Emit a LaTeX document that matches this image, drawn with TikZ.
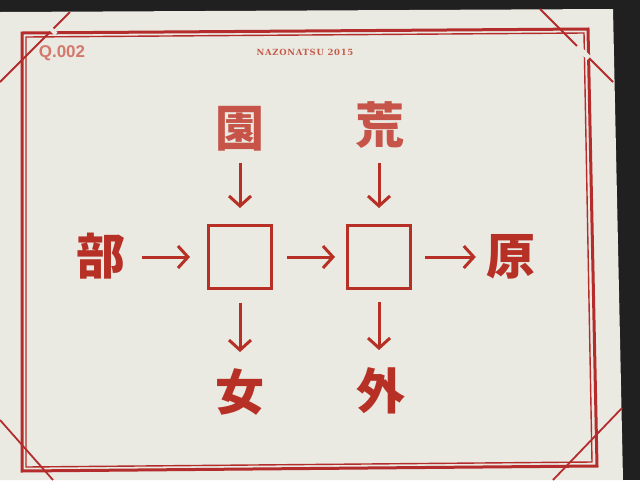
\documentclass[tikz,border=0pt]{standalone}
\usepackage{fontspec}
\setmainfont{Liberation Sans}
\newfontfamily\cjk{Noto Sans CJK JP}
\newfontfamily\slab{DejaVu Serif}[LetterSpace=8]
\usetikzlibrary{arrows.meta}
\definecolor{inkred}{RGB}{183,48,38}
\definecolor{inklight}{RGB}{198,84,72}
\definecolor{framered}{RGB}{181,44,44}
\definecolor{card}{RGB}{234,234,227}
\definecolor{darkbg}{RGB}{32,32,32}
\definecolor{qred}{RGB}{212,120,108}
\definecolor{nzred}{RGB}{196,92,74}
\begin{document}
\begin{tikzpicture}[x=1pt,y=-1pt,
  kanji/.style={inner sep=0pt,text=inkred,font=\cjk\bfseries\fontsize{49}{49}\selectfont,
    text height=41.6pt,text depth=3.9pt},
  sqbox/.style={draw=inkred,line width=3.4pt,minimum size=62.6pt,inner sep=0pt},
  arr/.style={draw=inkred,line width=3pt,-{Straight Barb[length=10pt,width=22pt]}},
  diag/.style={draw=framered,line width=1.8pt},
  thickframe/.style={draw=framered,line width=3pt},
  thinframe/.style={draw=framered,line width=1.4pt}]
\useasboundingbox (0,0) rectangle (640,480);
\fill[darkbg] (0,0) rectangle (640,480);
\fill[card] (0,12) -- (613,9) -- (623,480) -- (0,480) -- cycle;
% corner diagonals
\draw[diag] (70,12) -- (0,82);
\draw[diag] (540,9) -- (613,82);
\draw[diag] (0,420) -- (53,480);
\draw[diag] (622,408) -- (553,480);
% frame
\draw[thickframe] (22,33) -- (588,29) -- (597,466) -- (22,471) -- cycle;
\draw[thinframe] (26,37) -- (584,33) -- (592,462) -- (26,467) -- cycle;
% gaps at crossings
\draw[card,line width=5pt] (577,46) -- (589,58);
\draw[card,line width=4pt] (50,28) -- (56,34);
% header texts
\node[text=qred,font=\bfseries\fontsize{17}{17}\selectfont,inner sep=0pt] (q) at (62,53) {Q.002};
\node[text=nzred,font=\slab\bfseries\fontsize{8.5}{8.5}\selectfont,inner sep=0pt] (nz) at (305,52) {NAZONATSU 2015};
% boxes
\node[sqbox] (b1) at (240,257) {};
\node[sqbox] (b2) at (379,257) {};
% kanji
\node[kanji] (k1) at (101,256) {部};
\node[kanji] (k2) at (511,256) {原};
\node[kanji,text=inklight] (k3) at (240,128) {園};
\node[kanji,text=inklight] (k4) at (380,125) {荒};
\node[kanji] (k5) at (240,392) {女};
\node[kanji] (k6) at (381,391) {外};
% arrows
\draw[arr,shorten <=16.5pt,shorten >=17pt] (k1.east |- b1.west) -- (b1.west);
\draw[arr,shorten <=14pt,shorten >=11pt] (b1.east) -- (b2.west);
\draw[arr,shorten <=13pt,shorten >=10.5pt] (b2.east) -- (k2.west |- b2.east);
\draw[arr,shorten <=12pt,shorten >=16pt] (k3.south -| b1.north) -- (b1.north);
\draw[arr,shorten <=15pt,shorten >=16pt] (k4.south -| b2.north) -- (b2.north);
\draw[arr,shorten <=13pt,shorten >=17pt] (b1.south) -- (k5.north -| b1.south);
\draw[arr,shorten <=12pt,shorten >=18pt] (b2.south) -- (k6.north -| b2.south);
\end{tikzpicture}
\end{document}
